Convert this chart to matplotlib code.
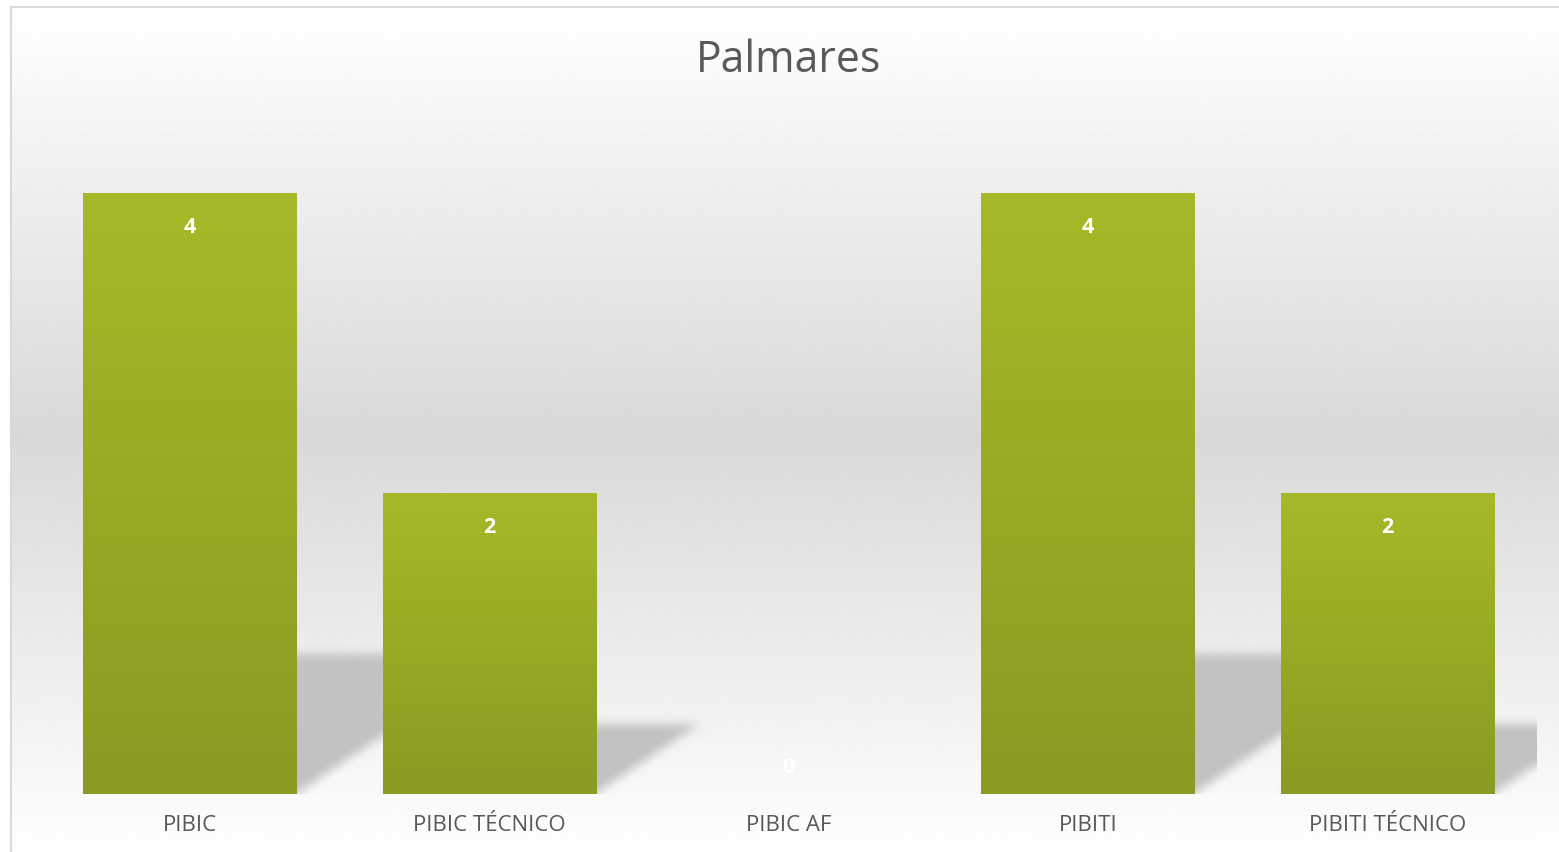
import matplotlib
matplotlib.use("Agg")
import matplotlib.pyplot as plt
import numpy as np
from matplotlib.lines import Line2D
from matplotlib.path import Path

categories = ["PIBIC", "PIBIC TÉCNICO", "PIBIC AF", "PIBITI", "PIBITI TÉCNICO"]
values = [4, 2, 0, 4, 2]
title = "Palmares"

W, H = 1559, 852
plt.rcParams["font.family"] = ["Open Sans", "DejaVu Sans"]
TEXT = "#595959"
TOP_GREEN = np.array([0xa7, 0xb9, 0x28]) / 255
BOT_GREEN = np.array([0x8a, 0x9a, 0x22]) / 255


def blur(a, r):
    # separable box blur, applied twice
    for _ in range(2):
        for axis in (0, 1):
            pad = [(0, 0), (0, 0)]
            pad[axis] = (r, r)
            p = np.pad(a, pad, mode="edge")
            c = np.cumsum(p, axis=axis)
            c = np.insert(c, 0, 0, axis=axis)
            n = a.shape[axis]
            hi = np.take(c, np.arange(2 * r + 1, 2 * r + 1 + n), axis=axis)
            lo = np.take(c, np.arange(0, n), axis=axis)
            a = (hi - lo) / (2 * r + 1)
    return a


fig = plt.figure(figsize=(W / 100, H / 100), dpi=100)

# chart area background: white -> gray -> white
bg = fig.add_axes([0, 0, 1, 1])
bg.axis("off")
ys = np.linspace(0, 1, 400)
shade = np.interp(ys, [0, 0.5, 1], [255, 217, 255]) / 255
grad = np.repeat(shade[:, None], 2, axis=1)
bg.imshow(grad, cmap="gray", vmin=0, vmax=1, aspect="auto",
          extent=(11, W, 862, 7), interpolation="bilinear")
bg.set_xlim(0, W)
bg.set_ylim(H, 0)

# plot area
x0_px, x1_px, y0_px, y1_px = 40, 1537, 793.5, 43
ax = fig.add_axes([x0_px / W, 1 - y0_px / H, (x1_px - x0_px) / W, (y0_px - y1_px) / H])
ax.set_facecolor("none")
x = np.arange(len(categories))
for s in ax.spines.values():
    s.set_visible(False)
ax.set_yticks([])
ax.set_xticks(x)
ax.set_xticklabels(categories, color=TEXT, fontsize=16)
ax.tick_params(axis="x", length=0, pad=15.5)

# perspective shadows behind the bars
nx, ny = int(x1_px - x0_px), int(y0_px - y1_px)
gx = np.linspace(-0.5, len(categories) - 0.5, nx)
gy = np.linspace(5, 0, ny)
GX, GY = np.meshgrid(gx, gy)
pts = np.column_stack([GX.ravel(), GY.ravel()])
mask = np.zeros(nx * ny)
width = 0.712
for xi, v in zip(x, values):
    if v <= 0:
        continue
    dx, dy = 0.174 * v, 0.233 * v
    poly = Path([(xi - width / 2, 0), (xi + width / 2, 0),
                 (xi + width / 2 + dx, dy), (xi - width / 2 + dx, dy)])
    mask = np.maximum(mask, poly.contains_points(pts))
mask = blur(mask.reshape(ny, nx), 5)
rgba = np.zeros((ny, nx, 4))
rgba[..., :3] = 0xc2 / 255
rgba[..., 3] = mask
ax.imshow(rgba, extent=(-0.5, len(categories) - 0.5, 0, 5), aspect="auto",
          zorder=1, interpolation="nearest")

# bars with vertical gradient
bars = ax.bar(x, values, width=width, color="none", zorder=2)
t = np.linspace(0, 1, 256)[:, None]
g = TOP_GREEN * (1 - t) + BOT_GREEN * t
g = g[:, None, :]
for b in bars:
    h = b.get_height()
    if h <= 0:
        continue
    im = ax.imshow(g, extent=(b.get_x(), b.get_x() + b.get_width(), 0, h),
                   aspect="auto", zorder=2, interpolation="bilinear")
    im.set_clip_path(b)
ax.set_xlim(-0.5, len(categories) - 0.5)
ax.set_ylim(0, 5)

# value labels
for xi, v in zip(x, values):
    off = -34 if v > 0 else 26
    ax.annotate(str(v), (xi, v), xytext=(0, off * 0.72), textcoords="offset points",
                ha="center", va="center", color="white", fontsize=15.5,
                fontweight="bold", zorder=3)

fig.text(788.5 / W, 1 - 72.5 / H, title, ha="center", va="baseline",
         color=TEXT, fontsize=30.8)

# chart border (right and bottom cut off)
fig.add_artist(Line2D([11 / W, 1], [1 - 7 / H, 1 - 7 / H], color="#d9d9d9", lw=1.5))
fig.add_artist(Line2D([11 / W, 11 / W], [0, 1 - 7 / H], color="#d9d9d9", lw=1.5))

fig.savefig("out.png", dpi=100)
